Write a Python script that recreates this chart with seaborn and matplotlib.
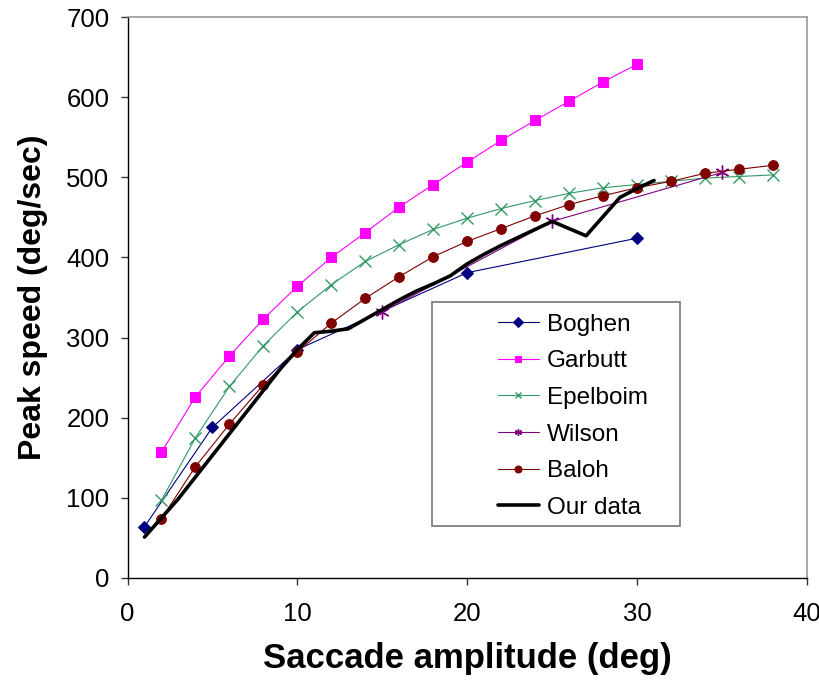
import matplotlib
matplotlib.use("Agg")
import matplotlib.pyplot as plt
from matplotlib.patches import Rectangle
import seaborn as sns

# Peak speed vs saccade amplitude
boghen_x = [1, 5, 10, 20, 30]
boghen_y = [64, 188, 285, 381, 424]

garbutt_x = [2, 4, 6, 8, 10, 12, 14, 16, 18, 20, 22, 24, 26, 28, 30]
garbutt_y = [157, 226, 277, 323, 364, 400, 431, 463, 491, 519, 546, 571, 595, 619, 641]

epelboim_x = [2, 4, 6, 8, 10, 12, 14, 16, 18, 20, 22, 24, 26, 28, 30, 32, 34, 36, 38]
epelboim_y = [97, 175, 239, 290, 332, 366, 395, 416, 435, 449, 461, 471, 480, 487, 491,
              495, 499, 501, 503]

wilson_x = [15, 25, 35]
wilson_y = [332, 445, 506]

baloh_x = [2, 4, 6, 8, 10, 12, 14, 16, 18, 20, 22, 24, 26, 28, 30, 32, 34, 36, 38]
baloh_y = [74, 139, 192, 241, 282, 318, 349, 376, 401, 420, 436, 452, 466, 477, 487,
           495, 505, 510, 515]

our_x = [1, 2, 3, 4, 5, 6, 7, 8, 9, 10, 11, 12, 13, 14, 15, 16, 17, 18, 19, 20,
         21, 22, 23, 24, 25, 26, 27, 28, 29, 30, 31]
our_y = [51, 75, 99, 126, 153, 180, 207, 234, 261, 285, 306, 308, 311, 323, 335, 347,
         358, 367, 377, 392, 404, 415, 425, 435, 445, 436, 427, 451, 475, 486, 496]

sns.set_style("white")
plt.rcParams['font.family'] = ['Liberation Sans', 'DejaVu Sans']
plt.rcParams['text.color'] = 'black'
plt.rcParams['axes.labelcolor'] = 'black'
plt.rcParams['xtick.color'] = 'black'
plt.rcParams['ytick.color'] = 'black'

fig = plt.figure(figsize=(8.2, 6.87), dpi=100)
ax = fig.add_axes([0.1555, 0.1587, 0.8285, 0.8165])

sns.lineplot(x=boghen_x, y=boghen_y, ax=ax, color='#000080', marker='D', markersize=6,
             markeredgecolor='#000080', linewidth=0.8, label='Boghen')
sns.lineplot(x=garbutt_x, y=garbutt_y, ax=ax, color='#FF00FF', marker='s', markersize=7,
             markeredgecolor='#FF00FF', linewidth=0.8, label='Garbutt')
sns.lineplot(x=epelboim_x, y=epelboim_y, ax=ax, color='#339966', marker='x', markersize=8,
             markeredgecolor='#339966', markeredgewidth=1.0, linewidth=0.8, label='Epelboim')
sns.lineplot(x=wilson_x, y=wilson_y, ax=ax, color='#800080', marker=(6, 2, 0), markersize=10,
             markeredgecolor='#800080', markeredgewidth=1.0, linewidth=0.8, label='Wilson')
sns.lineplot(x=baloh_x, y=baloh_y, ax=ax, color='#800000', marker='o', markersize=7,
             markeredgecolor='#800000', linewidth=0.8, label='Baloh')
sns.lineplot(x=our_x, y=our_y, ax=ax, color='black', linewidth=2.6, label='Our data')

ax.set_xlim(0, 40)
ax.set_ylim(0, 700)
ax.set_xticks([0, 10, 20, 30, 40])
ax.set_yticks(range(0, 701, 100))
ax.tick_params(axis='both', which='major', labelsize=18.5, direction='out', length=5,
               width=1, color='#333333', left=True, bottom=True)
ax.tick_params(axis='x', pad=12)
ax.tick_params(axis='y', pad=8)

for side in ['left', 'bottom']:
    ax.spines[side].set_color('black')
    ax.spines[side].set_linewidth(1)
for side in ['top', 'right']:
    ax.spines[side].set_color('#999999')
    ax.spines[side].set_linewidth(1.2)

ax.set_xlabel('Saccade amplitude (deg)', fontsize=25, fontweight='bold', labelpad=12)
ax.set_ylabel('Peak speed (deg/sec)', fontsize=23, fontweight='bold', labelpad=13)

# legend box drawn separately so the entries sit right of centre, as in the original
ax.add_patch(Rectangle((0.448, 0.0927), 0.365, 0.399, transform=ax.transAxes,
                       facecolor='white', edgecolor='#777777', linewidth=1.2, zorder=4))
leg = ax.legend(loc='upper left', bbox_to_anchor=(0.545, 0.471), fontsize=17.5,
                frameon=False, handlelength=1.7, labelspacing=0.6, borderpad=0,
                handletextpad=0.33, borderaxespad=0)
leg.set_zorder(5)
for h in leg.legend_handles:
    h.set_markersize(5)

fig.savefig('out.png', dpi=100)
